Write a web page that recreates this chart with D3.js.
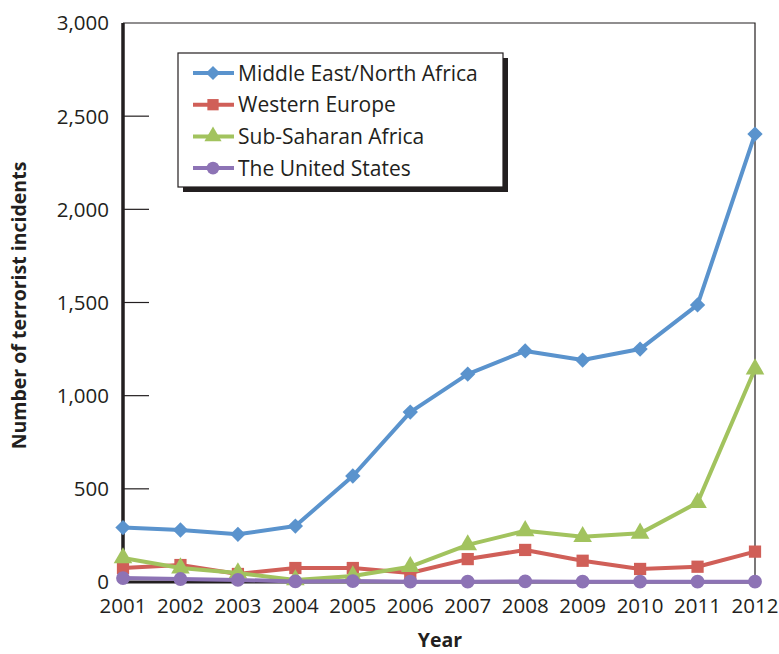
<!DOCTYPE html>
<html>
<head>
<meta charset="utf-8">
<script src="https://cdn.jsdelivr.net/npm/d3@7"></script>
<style>
  body { margin: 0; background: #fff; }
  text { font-family: "Open Sans", sans-serif; fill: #231f20; }
</style>
</head>
<body>
<div id="chart"></div>
<script>
var years = [2001, 2002, 2003, 2004, 2005, 2006, 2007, 2008, 2009, 2010, 2011, 2012];
var middleEast = [292, 279, 256, 300, 569, 912, 1116, 1240, 1191, 1250, 1487, 2404];
var westernEurope = [75, 91, 43, 75, 75, 48, 123, 172, 114, 70, 82, 163];
var subSaharan = [129, 75, 48, 11, 32, 82, 199, 275, 243, 261, 426, 1143];
var unitedStates = [21, 16, 11, 3, 5, 2, 2, 3, 2, 2, 2, 2];
var yTicks = [0, 500, 1000, 1500, 2000, 2500, 3000];

var series = [
    { name: "Middle East/North Africa", values: middleEast, color: "#5a93cd", shape: d3.symbolDiamond2, size: 150 },
    { name: "Western Europe", values: westernEurope, color: "#d05f58", shape: d3.symbolSquare, size: 150 },
    { name: "Sub-Saharan Africa", values: subSaharan, color: "#a2c35e", shape: d3.symbolTriangle, size: 150 },
    { name: "The United States", values: unitedStates, color: "#8d73b5", shape: d3.symbolCircle, size: 150 }
];

var width = 779, height = 654;
var margin = { top: 23, right: 24, bottom: 72, left: 123 };

var svg = d3.select("#chart").append("svg")
    .attr("width", width)
    .attr("height", height);

var x = d3.scalePoint()
    .domain(years)
    .range([margin.left, width - margin.right]);

var y = d3.scaleLinear()
    .domain([0, 3000])
    .range([height - margin.bottom, margin.top]);

// frame (top + right thin)
svg.append("path")
    .attr("d", "M" + margin.left + "," + margin.top + "H" + (width - margin.right) + "V" + y(0))
    .attr("fill", "none")
    .attr("stroke", "#231f20")
    .attr("stroke-width", 1.2);

// y ticks (inside) + labels
svg.selectAll(".ytick")
    .data(yTicks.filter(function (d) { return d > 0 && d < 3000; }))
    .enter().append("line")
    .attr("x1", margin.left)
    .attr("x2", margin.left + 26)
    .attr("y1", function (d) { return y(d); })
    .attr("y2", function (d) { return y(d); })
    .attr("stroke", "#231f20")
    .attr("stroke-width", 1.2);

svg.selectAll(".ylab")
    .data(yTicks)
    .enter().append("text")
    .attr("x", margin.left - 14)
    .attr("y", function (d) { return y(d); })
    .attr("dy", "0.36em")
    .attr("text-anchor", "end")
    .style("font-size", "20.5px")
    .text(function (d) { return d3.format(",")(d); });

// x labels
svg.selectAll(".xlab")
    .data(years)
    .enter().append("text")
    .attr("x", function (d) { return x(d); })
    .attr("y", y(0) + 31)
    .attr("text-anchor", "middle")
    .style("font-size", "20.5px")
    .text(function (d) { return d; });

// axis titles
svg.append("text")
    .attr("transform", "translate(26," + ((margin.top + y(0)) / 2 + 3) + ") rotate(-90)")
    .attr("text-anchor", "middle")
    .style("font-size", "19.5px")
    .style("font-weight", "bold")
    .text("Number of terrorist incidents");

svg.append("text")
    .attr("x", 440)
    .attr("y", 647)
    .attr("text-anchor", "middle")
    .style("font-size", "19.5px")
    .style("font-weight", "bold")
    .text("Year");

// lines
var line = d3.line()
    .x(function (d, i) { return x(years[i]); })
    .y(function (d) { return y(d); });

// axes (thick left and bottom)
svg.append("line")
    .attr("x1", margin.left).attr("x2", width - margin.right)
    .attr("y1", y(0)).attr("y2", y(0))
    .attr("stroke", "#231f20").attr("stroke-width", 3);
svg.append("line")
    .attr("x1", margin.left).attr("x2", margin.left)
    .attr("y1", margin.top).attr("y2", y(0) + 1.5)
    .attr("stroke", "#231f20").attr("stroke-width", 3.5);

series.forEach(function (s) {
    svg.append("path")
        .datum(s.values)
        .attr("fill", "none")
        .attr("stroke", s.color)
        .attr("stroke-width", 4)
        .attr("stroke-linejoin", "round")
        .attr("d", line);
    svg.selectAll(null)
        .data(s.values)
        .enter().append("path")
        .attr("transform", function (d, i) { return "translate(" + x(years[i]) + "," + y(d) + ")"; })
        .attr("d", d3.symbol().type(s.shape).size(s.size))
        .attr("fill", s.color);
});

// legend
var lg = svg.append("g").attr("transform", "translate(178,53)");
lg.append("rect")
    .attr("x", 5).attr("y", 5)
    .attr("width", 325).attr("height", 134)
    .attr("fill", "#231f20");
lg.append("rect")
    .attr("width", 325).attr("height", 134)
    .attr("fill", "#fff")
    .attr("stroke", "#231f20")
    .attr("stroke-width", 1.2);

series.forEach(function (s, i) {
    var g = lg.append("g").attr("transform", "translate(0," + (20 + i * 31.7) + ")");
    g.append("line")
        .attr("x1", 15).attr("x2", 56)
        .attr("stroke", s.color)
        .attr("stroke-width", 4);
    g.append("path")
        .attr("transform", "translate(35,0)")
        .attr("d", d3.symbol().type(s.shape).size(s.size * 0.85))
        .attr("fill", s.color);
    g.append("text")
        .attr("x", 60)
        .attr("dy", "0.36em")
        .style("font-size", "21px")
        .text(s.name);
});
</script>
</body>
</html>
